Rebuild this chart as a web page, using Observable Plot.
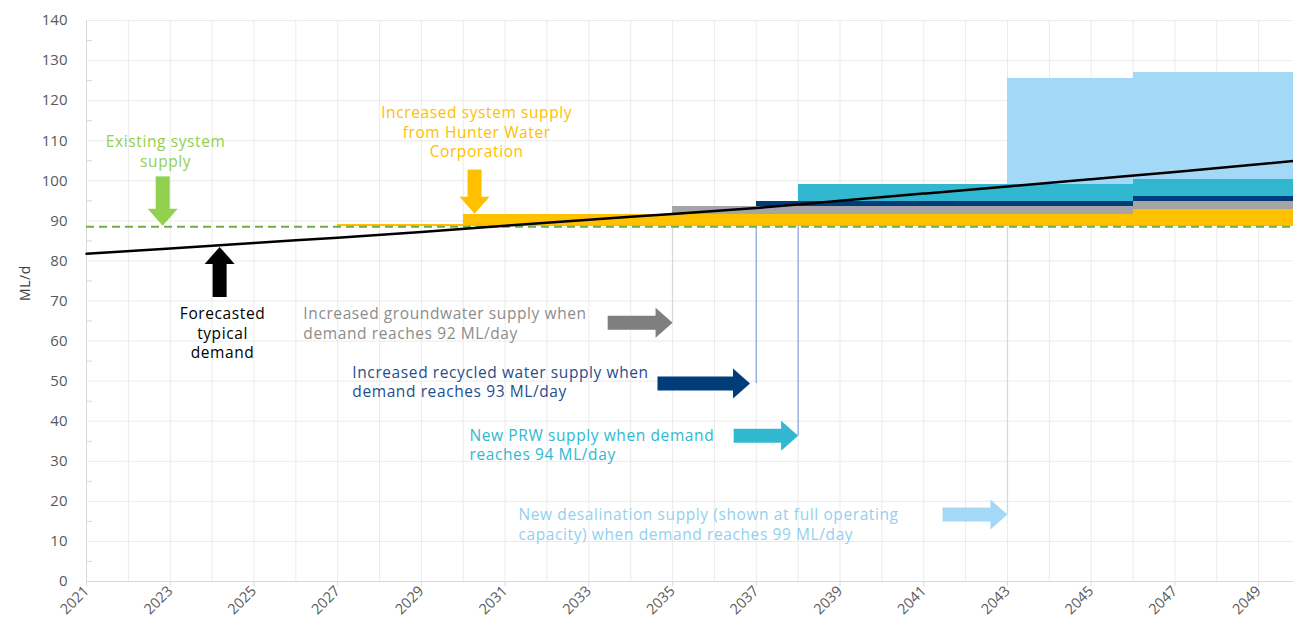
<!DOCTYPE html>
<html>
<head>
<meta charset="utf-8">
<script src="https://cdn.jsdelivr.net/npm/d3@7"></script>
<script src="https://cdn.jsdelivr.net/npm/@observablehq/plot@0.6"></script>
<style>
  body { margin: 0; background: #fff; }
  #chart svg { display: block; }
  #chart g[aria-label="text"] text { letter-spacing: 0.6px; }
</style>
</head>
<body>
<div id="chart"></div>
<script>
const FONT = "'Open Sans', 'Noto Sans', sans-serif";

// Axis ticks
const gridYears = d3.range(2021, 2051);
const xTickYears = [2021, 2023, 2025, 2027, 2029, 2031, 2033, 2035, 2037, 2039, 2041, 2043, 2045, 2047, 2049];
const yTicks = [0, 10, 20, 30, 40, 50, 60, 70, 80, 90, 100, 110, 120, 130, 140];
const yMinorTicks = [5, 15, 25, 35, 45, 55, 65, 75, 85, 95, 105, 115, 125, 135];

// Forecasted typical demand (ML/d)
const demandYears  = [2021, 2023, 2025, 2027, 2029, 2031, 2033, 2035, 2037, 2039, 2041, 2043, 2045, 2047, 2049, 2050];
const demandValues = [81.8, 83.1, 84.5, 85.8, 87.2, 88.8, 90.3, 91.7, 93.2, 95.0, 96.8, 98.6, 100.4, 102.2, 104.1, 105.1];

// Existing system supply (ML/d)
const existingSupply = 88.5;

// Supply periods and cumulative supply level after each source (ML/d)
const periodStart    = [2027, 2030, 2035, 2037, 2038, 2043, 2046];
const periodEnd      = [2030, 2035, 2037, 2038, 2043, 2046, 2050.2];
const hunterTop      = [89.2, 91.6, 91.6, 91.6, 91.6, 91.6, 92.9];
const groundwaterTop = [null, null, 93.6, 93.6, 93.6, 93.6, 94.8];
const recycledTop    = [null, null, null, 94.8, 94.8, 94.8, 96.2];
const prwTop         = [null, null, null, null, 99.1, 99.1, 100.3];
const desalTop       = [null, null, null, null, null, 125.6, 126.9];
const sourceNames  = ["Hunter Water", "Groundwater", "Recycled water", "PRW", "Desalination"];
const sourceColors = ["#ffc000", "#a5a5a5", "#003b7a", "#31b8d0", "#a3d9f6"];
const sourceTops   = [hunterTop, groundwaterTop, recycledTop, prwTop, desalTop];

// Trigger connector lines
const connectorYear   = [2035, 2037, 2038, 2043];
const connectorY      = [64.6, 49.4, 36.4, 16.7];
const connectorColors = ["#d9d9d9", "#8faadc", "#8faadc", "#bde0f7"];

// Block arrows
const arrowFromX  = [2022.82, 2030.27, 2024.18, 2033.45, 2034.64, 2036.46, 2041.45];
const arrowFromY  = [101.1, 102.8, 71.0, 64.6, 49.4, 36.4, 16.7];
const arrowToX    = [2022.82, 2030.27, 2024.18, 2035.0, 2036.85, 2038.0, 2043.0];
const arrowToY    = [88.8, 91.8, 83.5, 64.6, 49.4, 36.4, 16.7];
const arrowColors = ["#92d050", "#ffc000", "#000000", "#7f7f7f", "#003b7a", "#31b8d0", "#a3d9f6"];

// Annotations
const noteText = [
  "Existing system\nsupply",
  "Increased system supply\nfrom Hunter Water\nCorporation",
  "Forecasted\ntypical\ndemand",
  "Increased groundwater supply when\ndemand reaches 92 ML/day",
  "Increased recycled water supply when\ndemand reaches 93 ML/day",
  "New PRW supply when demand\nreaches 94 ML/day",
  "New desalination supply (shown at full operating\ncapacity) when demand reaches 99 ML/day"
];
const noteX      = [2022.89, 2030.32, 2024.25, 2026.18, 2027.35, 2030.15, 2031.32];
const noteY      = [107.5, 112.3, 62.1, 64.6, 50.0, 34.3, 14.35];
const noteAnchor = ["middle", "middle", "middle", "start", "start", "start", "start"];
const noteColors = ["#92d050", "#ffc000", "#000000", "#8c8c8c", "#1f4e8c", "#31b8d0", "#93cff0"];

// ---- build tables ----
const demand = demandYears.map((year, i) => ({year, value: demandValues[i]}));

const bandMarks = sourceTops.map((tops, s) => {
  const rows = [];
  tops.forEach((top, i) => {
    if (top == null) return;
    let bottom = existingSupply;
    for (let k = s - 1; k >= 0; k--) {
      if (sourceTops[k][i] != null) { bottom = sourceTops[k][i]; break; }
    }
    rows.push({source: sourceNames[s], x1: periodStart[i], x2: periodEnd[i], y1: bottom, y2: top});
  });
  return Plot.rect(rows, {x1: "x1", x2: "x2", y1: "y1", y2: "y2", fill: sourceColors[s], shapeRendering: "crispEdges"});
});

const connectorMarks = connectorYear.map((year, i) =>
  Plot.ruleX([year], {y1: connectorY[i], y2: existingSupply, stroke: connectorColors[i], strokeWidth: 1.3})
);

const headSymbol = {
  draw(context) {
    context.moveTo(0, 0);
    context.lineTo(-15, -17);
    context.lineTo(15, -17);
    context.closePath();
  }
};

const arrowMarks = arrowFromX.flatMap((x1, i) => {
  const d = {x1, y1: arrowFromY[i], x2: arrowToX[i], y2: arrowToY[i]};
  let rotate = 0;
  if (d.x2 > d.x1) rotate = -90;
  else if (d.y2 > d.y1) rotate = 180;
  return [
    Plot.arrow([d], {x1: "x1", y1: "y1", x2: "x2", y2: "y2", headLength: 0, insetEnd: 16,
      stroke: arrowColors[i], strokeWidth: 14, strokeLinecap: "butt", strokeOpacity: 1}),
    Plot.dot([d], {x: "x2", y: "y2", symbol: headSymbol, rotate, fill: arrowColors[i], stroke: "none", r: 5})
  ];
});

const noteMarks = noteText.map((t, i) =>
  Plot.text([t], {x: noteX[i], y: noteY[i], text: d => d, textAnchor: noteAnchor[i], lineAnchor: "middle",
    lineHeight: 1.258, fill: noteColors[i], fontSize: 15.5, fontFamily: FONT})
);

const chart = Plot.plot({
  width: 1293,
  height: 630,
  marginLeft: 86,
  marginRight: 0,
  marginTop: 20,
  marginBottom: 49,
  style: {fontFamily: FONT, background: "#fff"},
  x: {domain: [2021, 2050], range: [86, 1300]},
  y: {domain: [0, 140]},
  marks: [
    Plot.gridX(gridYears, {stroke: "#ebebeb", strokeOpacity: 1}),
    Plot.gridY(yTicks, {stroke: "#ebebeb", strokeOpacity: 1}),
    Plot.ruleX([2021], {stroke: "#d9d9d9"}),
    Plot.ruleY([0], {stroke: "#d9d9d9"}),
    Plot.axisY(yMinorTicks, {tickSize: -6, text: null, stroke: "#d9d9d9", label: null}),
    Plot.axisY(yTicks, {tickSize: 0, tickPadding: 19, fontSize: 15, fill: "#595959", label: null}),
    Plot.axisX(xTickYears, {tickSize: 5, stroke: "#d9d9d9", tickRotate: -45, tickFormat: d => String(d),
      fontSize: 14.5, fill: "#595959", tickPadding: 2, label: null}),
    Plot.text(["ML/d"], {frameAnchor: "left", dx: -61, rotate: -90, fontSize: 14, fill: "#404040", fontFamily: FONT}),
    ...connectorMarks,
    ...bandMarks,
    Plot.ruleY([existingSupply], {stroke: "#70ad47", strokeWidth: 2, strokeDasharray: "8,5"}),
    Plot.line(demand, {x: "year", y: "value", stroke: "#000", strokeWidth: 2.5, curve: "monotone-x"}),
    ...arrowMarks,
    ...noteMarks
  ]
});

document.getElementById("chart").append(chart);
</script>
</body>
</html>
